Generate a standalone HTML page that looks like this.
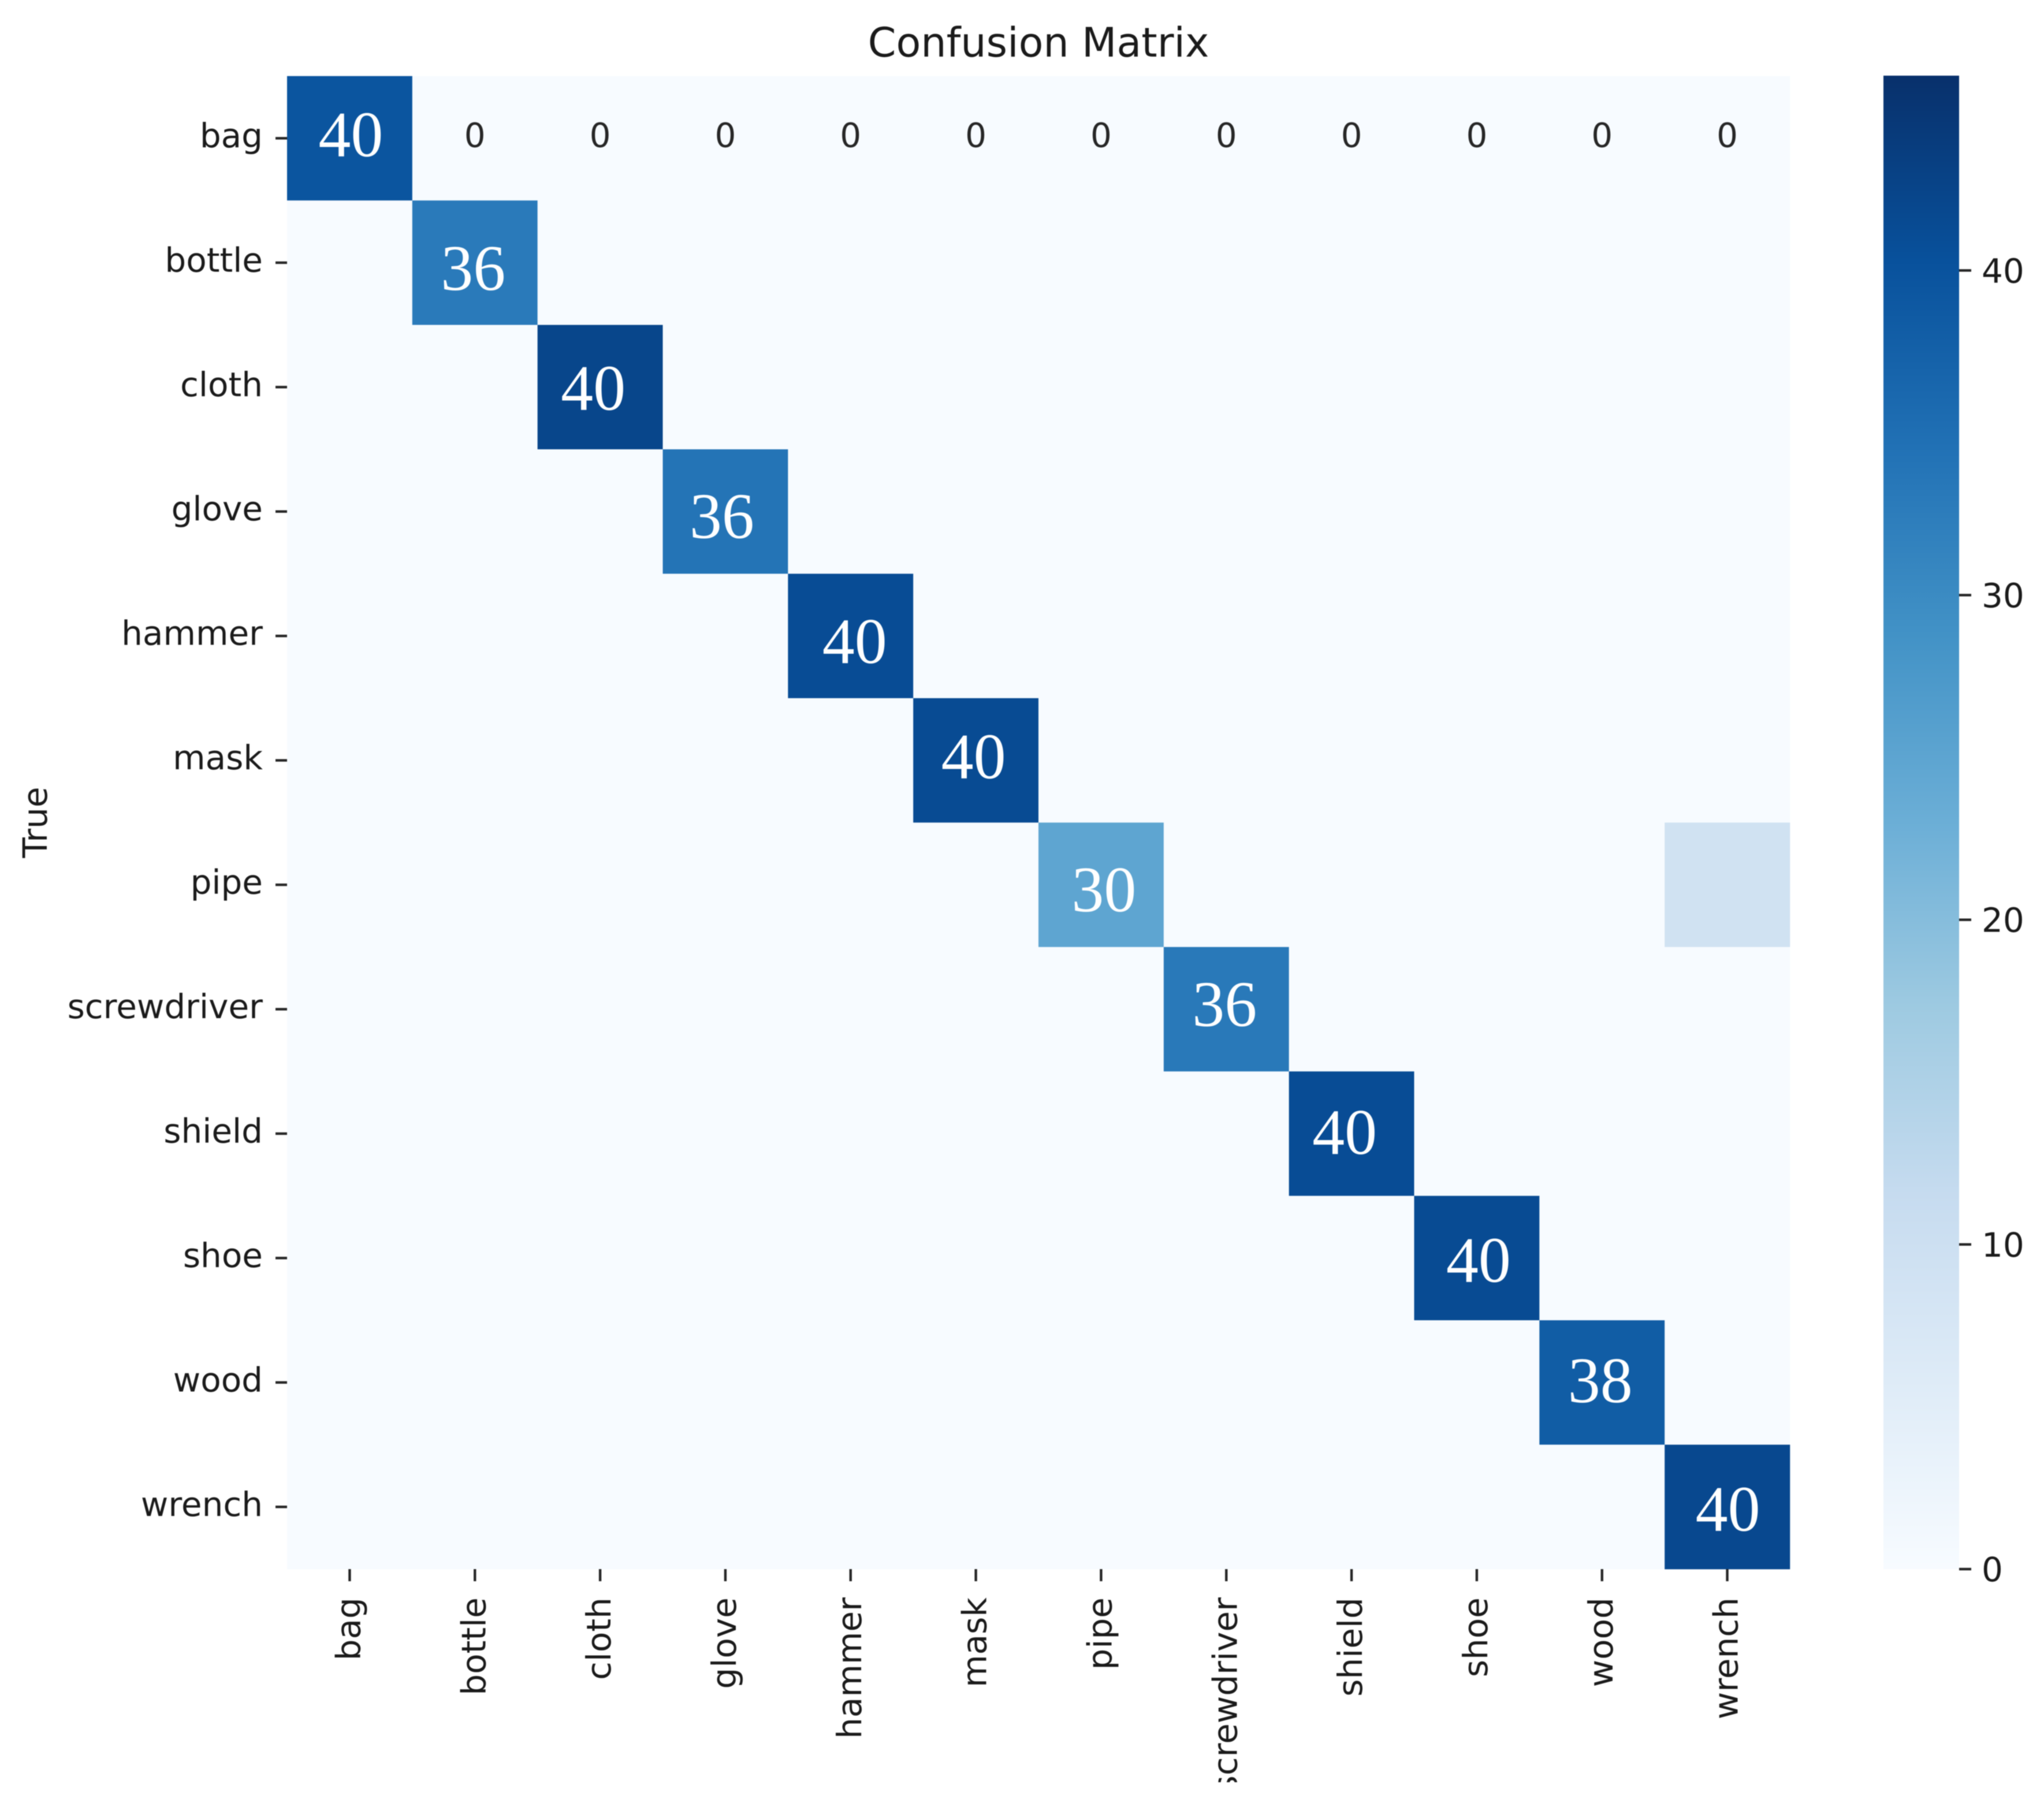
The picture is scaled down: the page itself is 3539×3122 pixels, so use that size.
<!DOCTYPE html>
<html lang="en">
<head>
<meta charset="utf-8">
<title>Confusion Matrix</title>
<style>
  html, body { margin: 0; padding: 0; background: #ffffff; }
  #chart { display: block; width: 3539px; height: 3122px; filter: blur(0.9px); }
  text { font-family: "DejaVu Sans", "Liberation Sans", sans-serif; fill: #1a1a1a; }
  text.big { font-family: "Liberation Serif", "Times New Roman", serif; fill: #ffffff; }
</style>
</head>
<body>
<svg id="chart" width="3539" height="3122" viewBox="0 0 3539 3122">
  <defs>
    <clipPath id="page-clip"><rect x="0" y="0" width="3539" height="3086"></rect></clipPath>
    <linearGradient id="blues-gradient" x1="0" y1="1" x2="0" y2="0"></linearGradient>
  </defs>
  <rect x="0" y="0" width="3539" height="3122" fill="#ffffff"></rect>
  <text x="1798" y="98" font-size="70" text-anchor="middle">Confusion Matrix</text>
  <text transform="translate(81 1424) rotate(-90)" font-size="58" text-anchor="middle">True</text>
  <g id="cells"></g>
  <g id="annotations"></g>
  <g id="y-axis"></g>
  <g id="x-axis" clip-path="url(#page-clip)"></g>
  <g id="colorbar"></g>
</svg>
<script>
// ---- data ----
const categories = ['bag', 'bottle', 'cloth', 'glove', 'hammer', 'mask', 'pipe', 'screwdriver', 'shield', 'shoe', 'wood', 'wrench'];

// Values that drive the cell colours.
const cellValues = [
  [39.5, 0, 0, 0, 0, 0, 0, 0, 0, 0, 0, 0],
  [0, 32.9, 0, 0, 0, 0, 0, 0, 0, 0, 0, 0],
  [0, 0, 42.2, 0, 0, 0, 0, 0, 0, 0, 0, 0],
  [0, 0, 0, 34, 0, 0, 0, 0, 0, 0, 0, 0],
  [0, 0, 0, 0, 41.1, 0, 0, 0, 0, 0, 0, 0],
  [0, 0, 0, 0, 0, 41.3, 0, 0, 0, 0, 0, 0],
  [0, 0, 0, 0, 0, 0, 24.8, 0, 0, 0, 0, 9],
  [0, 0, 0, 0, 0, 0, 0, 33.1, 0, 0, 0, 0],
  [0, 0, 0, 0, 0, 0, 0, 0, 41.1, 0, 0, 0],
  [0, 0, 0, 0, 0, 0, 0, 0, 0, 41.3, 0, 0],
  [0, 0, 0, 0, 0, 0, 0, 0, 0, 0, 38.1, 0],
  [0, 0, 0, 0, 0, 0, 0, 0, 0, 0, 0, 41.8]
];

// Printed numbers on the diagonal.
const diagonalLabels = [40, 36, 40, 36, 40, 40, 30, 36, 40, 40, 38, 40];
// Printed zeros, first row only, columns 1 to 11.
const firstRowLabels = [0, 0, 0, 0, 0, 0, 0, 0, 0, 0, 0];

const colorbarTicks = [0, 10, 20, 30, 40];
const colorDomainMax = 46;

// ---- layout and style ----
const plot = { left: 497, right: 3099, top: 131.7, bottom: 2717 };
const bar = { left: 3261, right: 3392, top: 131, bottom: 2717 };
const bluesStops = ['#f7fbff', '#deebf7', '#c6dbef', '#9ecae1', '#6baed6', '#4292c6', '#2171b5', '#08519c', '#08306b'];
// The large diagonal labels sit slightly off-centre in the source (px from the cell centre).
const diagonalNudgeX = [2, -3, -12, -6, 7, -4, 5, -3, -12, 3, -3, 1];
const diagonalNudgeY = [-7, 9, 1, 8, 9, -7, 8, -9, -3, 3, -4, 3];

const SVG_NS = 'http://www.w3.org/2000/svg';
const n = categories.length;
const cellW = (plot.right - plot.left) / n;
const cellH = (plot.bottom - plot.top) / n;
const xCenter = i => plot.left + cellW * (i + 0.5);
const yCenter = i => plot.top + cellH * (i + 0.5);
const barY = v => bar.bottom - (v / colorDomainMax) * (bar.bottom - bar.top);

function hexToRgb(h) {
  return [parseInt(h.slice(1, 3), 16), parseInt(h.slice(3, 5), 16), parseInt(h.slice(5, 7), 16)];
}
function blues(v) {
  const t = Math.max(0, Math.min(1, v / colorDomainMax)) * (bluesStops.length - 1);
  const i = Math.min(Math.floor(t), bluesStops.length - 2);
  const a = hexToRgb(bluesStops[i]);
  const b = hexToRgb(bluesStops[i + 1]);
  const f = t - i;
  return 'rgb(' + a.map((c, k) => Math.round(c + (b[k] - c) * f)).join(',') + ')';
}
function make(tag, attrs, text) {
  const el = document.createElementNS(SVG_NS, tag);
  Object.keys(attrs).forEach(k => el.setAttribute(k, attrs[k]));
  if (text !== undefined) el.textContent = text;
  return el;
}

// ---- heatmap cells ----
const cellsGroup = document.getElementById('cells');
cellValues.forEach((row, r) => {
  row.forEach((value, c) => {
    const cell = make('rect', {
      x: plot.left + cellW * c,
      y: plot.top + cellH * r,
      width: cellW + 0.3,
      height: cellH + 0.3,
      fill: blues(value)
    });
    
    
    cellsGroup.appendChild(cell);
  });
});

// ---- annotations ----
const annotationGroup = document.getElementById('annotations');
diagonalLabels.forEach((value, i) => {
  const label = make('text', {
    class: 'big',
    x: xCenter(i) + diagonalNudgeX[i],
    y: yCenter(i) + diagonalNudgeY[i] + 38,
    'font-size': 112,
    'text-anchor': 'middle'
  }, String(value));
  
  
  annotationGroup.appendChild(label);
});
firstRowLabels.forEach((value, i) => {
  const label = make('text', {
    x: xCenter(i + 1),
    y: yCenter(0) + 15,
    'font-size': 58,
    'text-anchor': 'middle',
    style: 'fill:#262626'
  }, String(value));
  
  
  annotationGroup.appendChild(label);
});

// ---- axes ----
const yAxis = document.getElementById('y-axis');
const xAxis = document.getElementById('x-axis');
categories.forEach((name, i) => {
  const yTick = make('rect', { x: plot.left - 20, y: yCenter(i) - 2.2, width: 20, height: 4.4, fill: '#262626' });
  
  
  yAxis.appendChild(yTick);

  const yLabel = make('text', { x: 455, y: yCenter(i) + 15.5, 'font-size': 58, 'text-anchor': 'end' }, name);
  
  
  yAxis.appendChild(yLabel);

  const xTick = make('rect', { x: xCenter(i) - 2.2, y: plot.bottom, width: 4.4, height: 21, fill: '#262626' });
  
  
  xAxis.appendChild(xTick);

  const xLabel = make('text', {
    transform: 'translate(' + (xCenter(i) + 18) + ' 2766) rotate(-90)',
    'font-size': 58,
    'text-anchor': 'end'
  }, name);
  
  
  xAxis.appendChild(xLabel);
});

// ---- colour bar ----
const gradient = document.getElementById('blues-gradient');
bluesStops.forEach((color, i) => {
  gradient.appendChild(make('stop', { offset: i / (bluesStops.length - 1), 'stop-color': color }));
});
const colorbar = document.getElementById('colorbar');
const barRect = make('rect', {
  x: bar.left,
  y: bar.top,
  width: bar.right - bar.left,
  height: bar.bottom - bar.top,
  fill: 'url(#blues-gradient)'
});


colorbar.appendChild(barRect);

colorbarTicks.forEach(value => {
  const tick = make('rect', { x: bar.right, y: barY(value) - 2.2, width: 21, height: 4.4, fill: '#262626' });
  
  
  colorbar.appendChild(tick);

  const label = make('text', { x: 3431, y: barY(value) + 21, 'font-size': 58 }, String(value));
  
  
  colorbar.appendChild(label);
});
</script>
</body>
</html>
